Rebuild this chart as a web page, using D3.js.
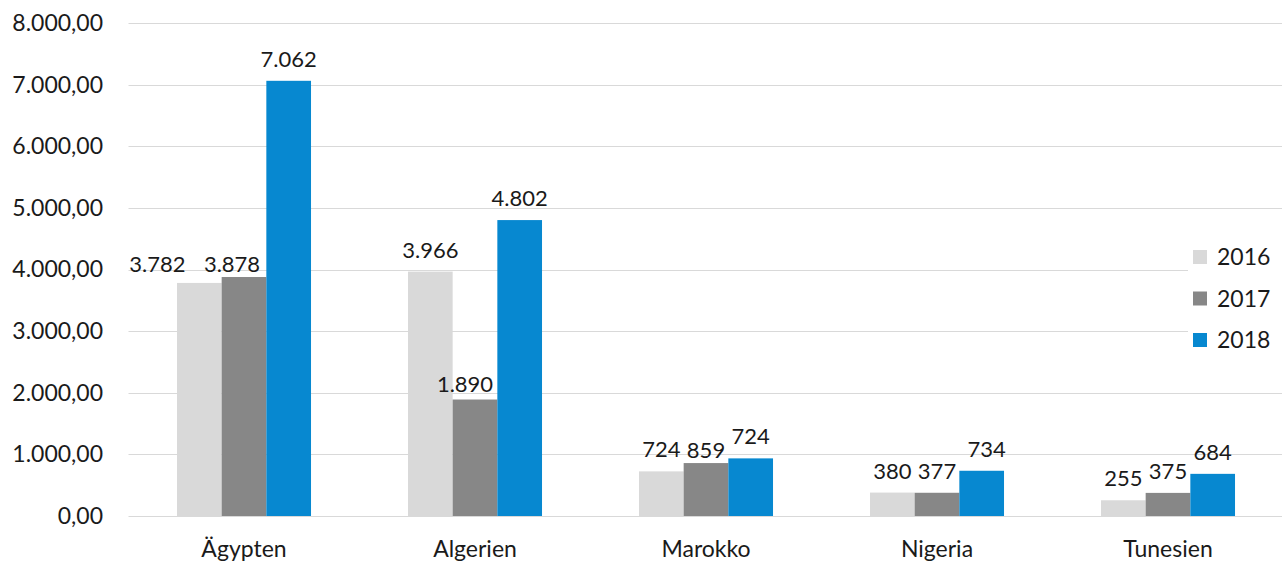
<!DOCTYPE html>
<html>
<head>
<meta charset="utf-8">
<script src="https://cdn.jsdelivr.net/npm/d3@7"></script>
<style>
  body { margin: 0; background: #fff; }
  svg { display: block; font-family: Lato, "Open Sans", sans-serif; }
  .tick text { fill: #1a1a1a; }
</style>
</head>
<body>
<svg id="chart"></svg>
<script>
// data
const categories = ['Ägypten', 'Algerien', 'Marokko', 'Nigeria', 'Tunesien'];
const years = ['2016', '2017', '2018'];
const values2016 = [3782, 3966, 724, 380, 255];
const values2017 = [3878, 1890, 859, 377, 375];
const values2018 = [7062, 4802, 935, 734, 684];
// printed labels (Marokko 2018 label does not match its bar in the original)
const labels2016 = ['3.782', '3.966', '724', '380', '255'];
const labels2017 = ['3.878', '1.890', '859', '377', '375'];
const labels2018 = ['7.062', '4.802', '724', '734', '684'];
const yTicks = [0, 1000, 2000, 3000, 4000, 5000, 6000, 7000, 8000];

const colors = { '2016': '#d9d9d9', '2017': '#878787', '2018': '#0788d0' };

// hand-placed labels in the original chart: [dx, dy] from the default spot
const labelNudge = {
    'Ägypten|2016': [-42, 3],
    'Ägypten|2017': [-12, 9],
    'Algerien|2017': [-10, 6],
    'Marokko|2017': [0, 9],
    'Nigeria|2018': [5, 0]
};

const seriesValues = { '2016': values2016, '2017': values2017, '2018': values2018 };
const seriesLabels = { '2016': labels2016, '2017': labels2017, '2018': labels2018 };

const rows = [];
categories.forEach((c, i) => {
    years.forEach(y => {
        rows.push({ category: c, year: y, value: seriesValues[y][i], label: seriesLabels[y][i] });
    });
});

const width = 1282, height = 563;
const margin = { top: 23, right: 0, bottom: 47, left: 128.5 };

const svg = d3.select('#chart')
    .attr('width', width)
    .attr('height', height);

const yScale = d3.scaleLinear()
    .domain([0, 8000])
    .range([height - margin.bottom, margin.top]);

const x0 = d3.scaleBand()
    .domain(categories)
    .range([margin.left, 1283.5])
    .padding(0);

const x1 = d3.scaleBand()
    .domain(years)
    .range([0, x0.bandwidth()])
    .paddingInner(0)
    .paddingOuter(1.085);

const fmt = d3.formatLocale({ decimal: ',', thousands: '.', grouping: [3], currency: ['', ''] }).format(',.2f');

// gridlines
svg.append('g')
    .selectAll('line')
    .data(yTicks)
    .join('line')
    .attr('x1', margin.left)
    .attr('x2', width)
    .attr('y1', d => Math.round(yScale(d)) + 0.5)
    .attr('y2', d => Math.round(yScale(d)) + 0.5)
    .attr('stroke', '#d9d9d9')
    .attr('stroke-width', 1);

// y axis labels
const yAxis = d3.axisLeft(yScale)
    .tickValues(yTicks)
    .tickFormat(fmt)
    .tickSize(0)
    .tickPadding(0);

svg.append('g')
    .attr('transform', 'translate(103,0)')
    .call(yAxis)
    .call(g => g.select('.domain').remove())
    .selectAll('text')
    .attr('font-size', 23)
    .attr('font-family', 'Lato, sans-serif');

// bars
const groups = svg.append('g')
    .selectAll('g')
    .data(categories)
    .join('g')
    .attr('transform', d => `translate(${x0(d)},0)`);

groups.selectAll('rect')
    .data(c => rows.filter(r => r.category === c))
    .join('rect')
    .attr('x', d => x1(d.year))
    .attr('y', d => yScale(d.value))
    .attr('width', x1.bandwidth())
    .attr('height', d => yScale(0) - yScale(d.value))
    .attr('fill', d => colors[d.year]);

// value labels
groups.selectAll('text.value')
    .data(c => rows.filter(r => r.category === c))
    .join('text')
    .attr('class', 'value')
    .attr('x', d => x1(d.year) + x1.bandwidth() / 2 + (labelNudge[d.category + '|' + d.year] || [0, 0])[0])
    .attr('y', d => yScale(d.value) - 14 + (labelNudge[d.category + '|' + d.year] || [0, 0])[1])
    .attr('text-anchor', 'middle')
    .attr('font-size', 22)
    .attr('fill', '#1a1a1a')
    .text(d => d.label);

// category axis
const xAxis = d3.axisBottom(x0).tickSize(0).tickPadding(0);
svg.append('g')
    .attr('transform', `translate(0, ${yScale(0)})`)
    .call(xAxis)
    .call(g => g.select('.domain').remove())
    .selectAll('text')
    .attr('dy', null)
    .attr('y', 41)
    .attr('font-size', 23)
    .attr('font-family', 'Lato, sans-serif');

// legend
const legend = svg.append('g');
legend.append('rect')
    .attr('x', 1188)
    .attr('y', 236)
    .attr('width', 94)
    .attr('height', 124)
    .attr('fill', '#fff');

const items = legend.selectAll('g')
    .data(years)
    .join('g')
    .attr('transform', (d, i) => `translate(1193, ${257 + i * 41.5})`);

items.append('rect')
    .attr('x', 0)
    .attr('y', -7)
    .attr('width', 14)
    .attr('height', 14)
    .attr('fill', d => colors[d]);

items.append('text')
    .attr('x', 24)
    .attr('y', 8)
    .attr('font-size', 23)
    .attr('fill', '#1a1a1a')
    .text(d => d);
</script>
</body>
</html>
